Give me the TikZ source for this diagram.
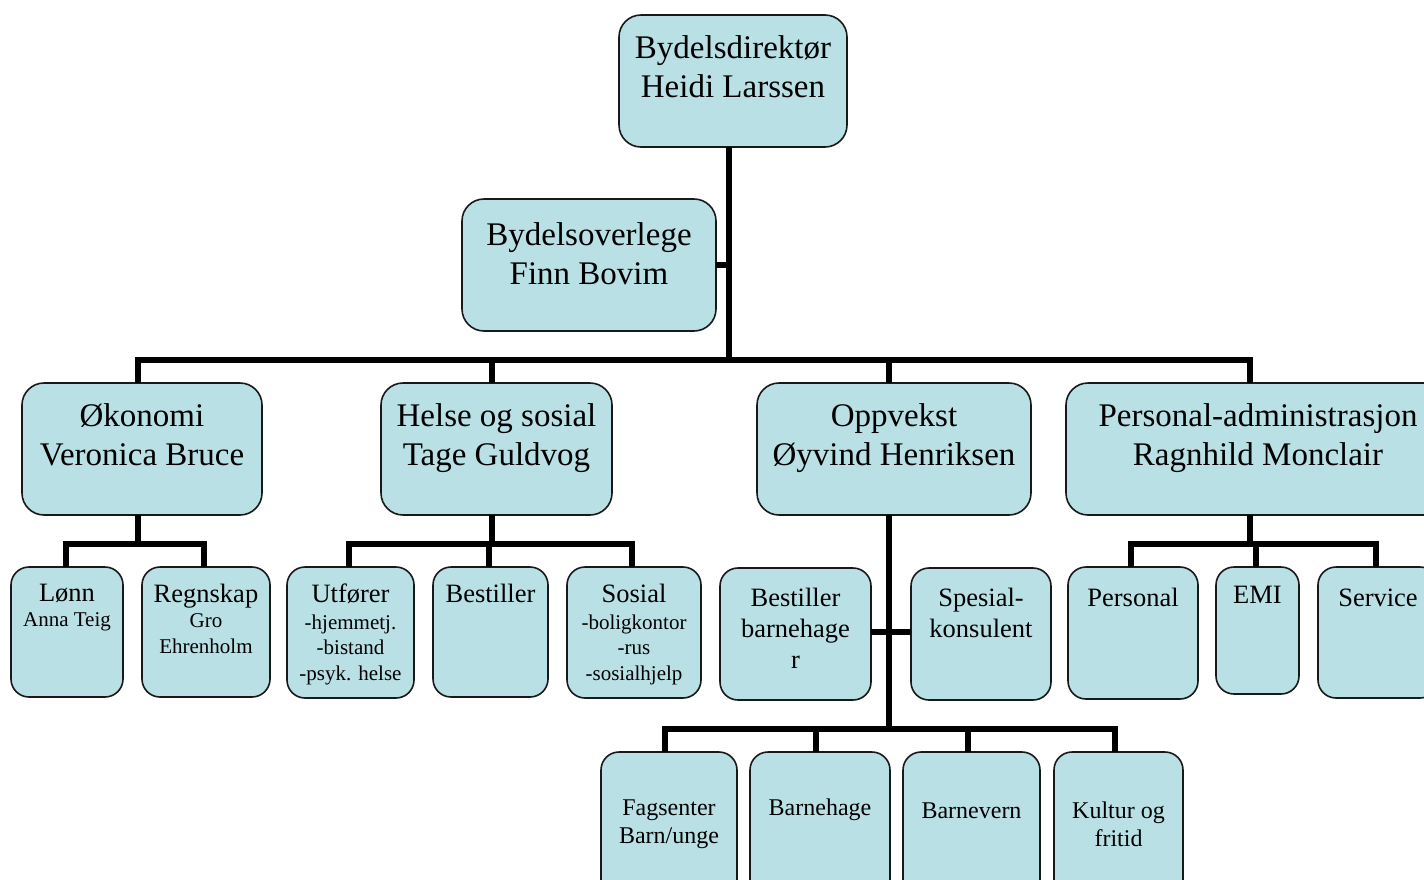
\documentclass[tikz,border=0pt]{standalone}
\usepackage{fontspec}
\setmainfont{Liberation Serif}
\definecolor{boxfill}{RGB}{185,224,228}
\definecolor{boxline}{RGB}{25,25,25}
\begin{document}
\begin{tikzpicture}[x=1pt,y=-1pt,
  box/.style={draw=boxline, line width=1.6pt, fill=boxfill, rounded corners=#1, inner sep=0pt, outer sep=0pt},
  box/.default=18pt,
  conn/.style={line width=6pt, line join=miter, line cap=butt, draw=black},
  txt/.style={anchor=north, inner sep=0pt, outer sep=0pt, align=center, text=black},
  big/.style={font={\fontsize{33}{39}\selectfont}},
  mid/.style={font={\fontsize{26.5}{31}\selectfont}},
  sml/.style={font={\fontsize{21}{25.5}\selectfont}},
  low/.style={font={\fontsize{24}{28}\selectfont}}
]
\useasboundingbox (0,0) rectangle (1424,879);
\clip (0,0) rectangle (1424,879);

% boxes
\node[box=22pt, minimum width=228pt, minimum height=132pt] (dir) at (733,81) {};
\node[box=22pt, minimum width=254pt, minimum height=132pt] (ovl) at (589,265) {};
\node[box=22pt, minimum width=240pt, minimum height=132pt] (oko) at (142,449) {};
\node[box=22pt, minimum width=231pt, minimum height=132pt] (hel) at (496.5,449) {};
\node[box=22pt, minimum width=274pt, minimum height=132pt] (opp) at (894,449) {};
\node[box=22pt, minimum width=380pt, minimum height=132pt] (per) at (1256,449) {};

\node[box, minimum width=112pt, minimum height=130pt] (lon) at (67,632) {};
\node[box, minimum width=128pt, minimum height=130pt] (reg) at (206,632) {};
\node[box, minimum width=127pt, minimum height=131pt] (utf) at (350.5,632.5) {};
\node[box, minimum width=115pt, minimum height=130pt] (bes) at (490.5,632) {};
\node[box, minimum width=134pt, minimum height=131pt] (sos) at (634,632.5) {};
\node[box, minimum width=151pt, minimum height=132pt] (bba) at (795.5,634) {};
\node[box, minimum width=140pt, minimum height=132pt] (spe) at (981,634) {};
\node[box, minimum width=130pt, minimum height=132pt] (pers) at (1133,633) {};
\node[box, minimum width=83pt, minimum height=127pt] (emi) at (1257.5,630.5) {};
\node[box, minimum width=120pt, minimum height=131pt] (ser) at (1378,632.5) {};

\node[box, minimum width=136pt, minimum height=148pt] (fag) at (669,826) {};
\node[box, minimum width=140pt, minimum height=148pt] (bhg) at (820,826) {};
\node[box, minimum width=137pt, minimum height=148pt] (bvn) at (971.5,826) {};
\node[box, minimum width=129pt, minimum height=148pt] (kul) at (1118.5,826) {};

% junction points
\coordinate (mainBar) at (729,359.5);
\coordinate (okoBar) at (137.5,544.3);
\coordinate (helBar) at (492,544.3);
\coordinate (perBar) at (1250,544.3);
\coordinate (oppBar) at (888.5,728.5);

% connectors
\draw[conn] ([xshift=-4pt]dir.south) -- (mainBar);
\draw[conn] (ovl.east) -- (ovl.east -| mainBar);
\draw[conn] ([xshift=-4.5pt]oko.north) |- (mainBar);
\draw[conn] ([xshift=-4.5pt]hel.north) |- (mainBar);
\draw[conn] ([xshift=-5.5pt]opp.north) |- (mainBar);
\draw[conn] ([xshift=-6pt]per.north) |- (mainBar);

\draw[conn] ([xshift=-4.5pt]oko.south) -- (okoBar);
\draw[conn] ([xshift=-1.5pt]lon.north) |- (okoBar);
\draw[conn] ([xshift=-2pt]reg.north) |- (okoBar);

\draw[conn] ([xshift=-4.5pt]hel.south) -- (helBar);
\draw[conn] ([xshift=-1.5pt]utf.north) |- (helBar);
\draw[conn] ([xshift=-1.5pt]bes.north) |- (helBar);
\draw[conn] ([xshift=-2pt]sos.north) |- (helBar);

\draw[conn] ([xshift=-6pt]per.south) -- (perBar);
\draw[conn] ([xshift=-2pt]pers.north) |- (perBar);
\draw[conn] ([xshift=-1.5pt]emi.north) |- (perBar);
\draw[conn] ([xshift=-2pt]ser.north) |- (perBar);

\draw[conn] ([xshift=-5.5pt]opp.south) -- (oppBar);
\draw[conn] ([yshift=2pt]bba.east) -- ([yshift=2pt]spe.west);
\draw[conn] ([xshift=-4.5pt]fag.north) |- (oppBar);
\draw[conn] ([xshift=-4pt]bhg.north) |- (oppBar);
\draw[conn] ([xshift=-3.5pt]bvn.north) |- (oppBar);
\draw[conn] ([xshift=-3.5pt]kul.north) |- (oppBar);

% texts
\node[txt, big] (tdir) at (733,30.7) {\strut Bydelsdirektør\\Heidi Larssen};
\node[txt, big] (tovl) at (589,217.7) {\strut Bydelsoverlege\\Finn Bovim};
\node[txt, big] (toko) at (142,398.7) {\strut Økonomi\\Veronica Bruce};
\node[txt, big] (thel) at (496.5,398.7) {\strut Helse og sosial\\Tage Guldvog};
\node[txt, big] (topp) at (894,398.7) {\strut Oppvekst\\Øyvind Henriksen};
\node[txt, big] (tper) at (1258,398.7) {\strut Personal-administrasjon\\Ragnhild Monclair};

\node[txt, sml] (tlon) at (67,579.5) {{\fontsize{26.5}{31}\selectfont\strut Lønn}\\Anna Teig};
\node[txt, sml] (treg) at (206,580.3) {{\fontsize{26.5}{31}\selectfont\strut Regnskap}\\Gro\\Ehrenholm};
\node[txt, sml] (tutf) at (350.5,580.3) {{\fontsize{26.5}{31}\selectfont\strut Utfører}\\[1.5pt]-hjemmetj.\\-bistand\\-psyk. helse};
\node[txt, mid] (tbes) at (490.5,580.3) {\strut Bestiller};
\node[txt, sml] (tsos) at (634,580.3) {{\fontsize{26.5}{31}\selectfont\strut Sosial}\\[1.5pt]-boligkontor\\-rus\\-sosialhjelp};
\node[txt, mid] (tbba) at (795.5,584.3) {\strut Bestiller\\barnehage\\r};
\node[txt, mid] (tspe) at (981,584.3) {\strut Spesial-\\konsulent};
\node[txt, mid] (tpers) at (1133,584.3) {\strut Personal};
\node[txt, mid] (temi) at (1257.5,581.3) {\strut EMI};
\node[txt, mid] (tser) at (1378,584.3) {\strut Service};

\node[txt, low] (tfag) at (669,795.4) {\strut Fagsenter\\Barn/unge};
\node[txt, low] (tbhg) at (820,795.4) {\strut Barnehage};
\node[txt, low] (tbvn) at (971.5,798.4) {\strut Barnevern};
\node[txt, low] (tkul) at (1118.5,798.4) {\strut Kultur og\\fritid};
\end{tikzpicture}
\end{document}
